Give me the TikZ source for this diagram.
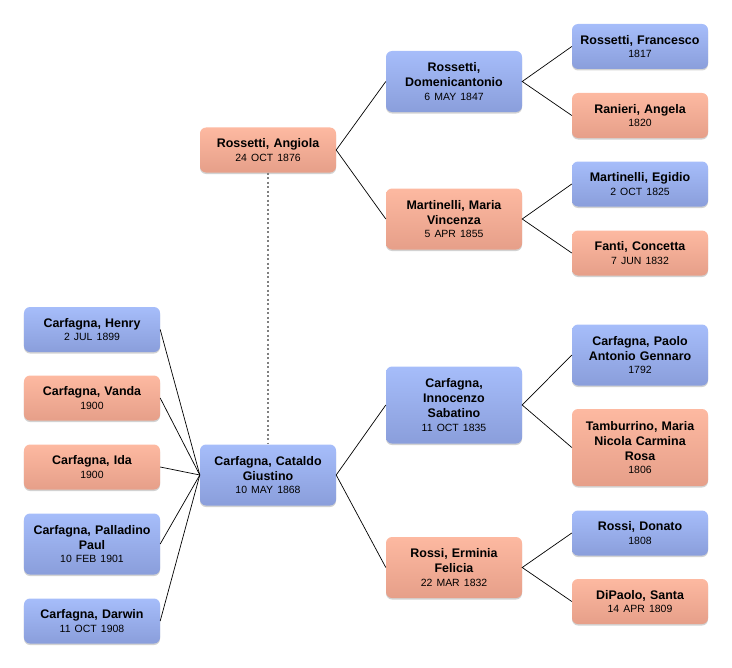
\documentclass[tikz,border=0pt]{standalone}
\usepackage{fontspec}
\setmainfont{Liberation Sans}
\usetikzlibrary{shadows}
\definecolor{maletop}{HTML}{A6BDFA}
\definecolor{malebot}{HTML}{8A9EDB}
\definecolor{femtop}{HTML}{FDB9A1}
\definecolor{fembot}{HTML}{E69F89}
\newcommand{\dt}[1]{\\[-1.5bp]{\mdseries\fontsize{10.5}{13}\selectfont #1}}
\tikzset{
  person/.style={rounded corners=6bp, minimum width=136bp, minimum height=45bp,
    text width=130bp, align=center, inner sep=2bp,
    font=\bfseries\fontsize{12.5}{15}\selectfont,
    drop shadow={shadow xshift=0bp, shadow yshift=-1.5bp, opacity=0.25, fill=black!70}},
  male/.style={person, top color=maletop, bottom color=malebot},
  female/.style={person, top color=femtop, bottom color=fembot},
  two/.style={minimum height=61bp},
  three/.style={minimum height=77bp},
  link/.style={line width=0.7bp, black}
}
\begin{document}
\begin{tikzpicture}[x=1bp, y=-1bp]
\useasboundingbox (0,0) rectangle (732,668);
% children
\node[male] (henry) at (92,329.5) {Carfagna, Henry\dt{2 JUL 1899}};
\node[female] (vanda) at (92,398) {Carfagna, Vanda\dt{1900}};
\node[female] (ida) at (92,467) {Carfagna, Ida\dt{1900}};
\node[male,two] (paul) at (92,544) {Carfagna, Palladino\\Paul\dt{10 FEB 1901}};
\node[male] (darwin) at (92,621) {Carfagna, Darwin\dt{11 OCT 1908}};
% parents
\node[male,two] (cataldo) at (268,475) {Carfagna, Cataldo\\Giustino\dt{10 MAY 1868}};
\node[female] (angiola) at (268,150) {Rossetti, Angiola\dt{24 OCT 1876}};
% grandparents
\node[male,two] (domenico) at (454,81.5) {Rossetti,\\Domenicantonio\dt{6 MAY 1847}};
\node[female,two] (mariav) at (454,219) {Martinelli, Maria\\Vincenza\dt{5 APR 1855}};
\node[male,three] (innocenzo) at (454,405) {Carfagna,\\Innocenzo\\Sabatino\dt{11 OCT 1835}};
\node[female,two] (erminia) at (454,567.5) {Rossi, Erminia\\Felicia\dt{22 MAR 1832}};
% great-grandparents
\node[male] (francesco) at (640,46.5) {Rossetti, Francesco\dt{1817}};
\node[female] (angela) at (640,115.5) {Ranieri, Angela\dt{1820}};
\node[male] (egidio) at (640,184) {Martinelli, Egidio\dt{2 OCT 1825}};
\node[female] (concetta) at (640,253) {Fanti, Concetta\dt{7 JUN 1832}};
\node[male,two] (paolo) at (640,355) {Carfagna, Paolo\\Antonio Gennaro\dt{1792}};
\node[female,three] (rosa) at (640,447.5) {Tamburrino, Maria\\Nicola Carmina\\Rosa\dt{1806}};
\node[male] (donato) at (640,533) {Rossi, Donato\dt{1808}};
\node[female] (santa) at (640,601.5) {DiPaolo, Santa\dt{14 APR 1809}};
% connectors
\draw[black!50, line width=1.1bp, dash pattern=on 2bp off 2.5bp] (angiola.south) -- (cataldo.north);
\foreach \c in {henry,vanda,ida,paul,darwin}
  \draw[link] (\c.east) -- (cataldo.west);
\foreach \p/\a/\b in {angiola/domenico/mariav, cataldo/innocenzo/erminia,
    domenico/francesco/angela, mariav/egidio/concetta,
    innocenzo/paolo/rosa, erminia/donato/santa}{
  \draw[link] (\a.west) -- (\p.east) -- (\b.west);}
\end{tikzpicture}
\end{document}
